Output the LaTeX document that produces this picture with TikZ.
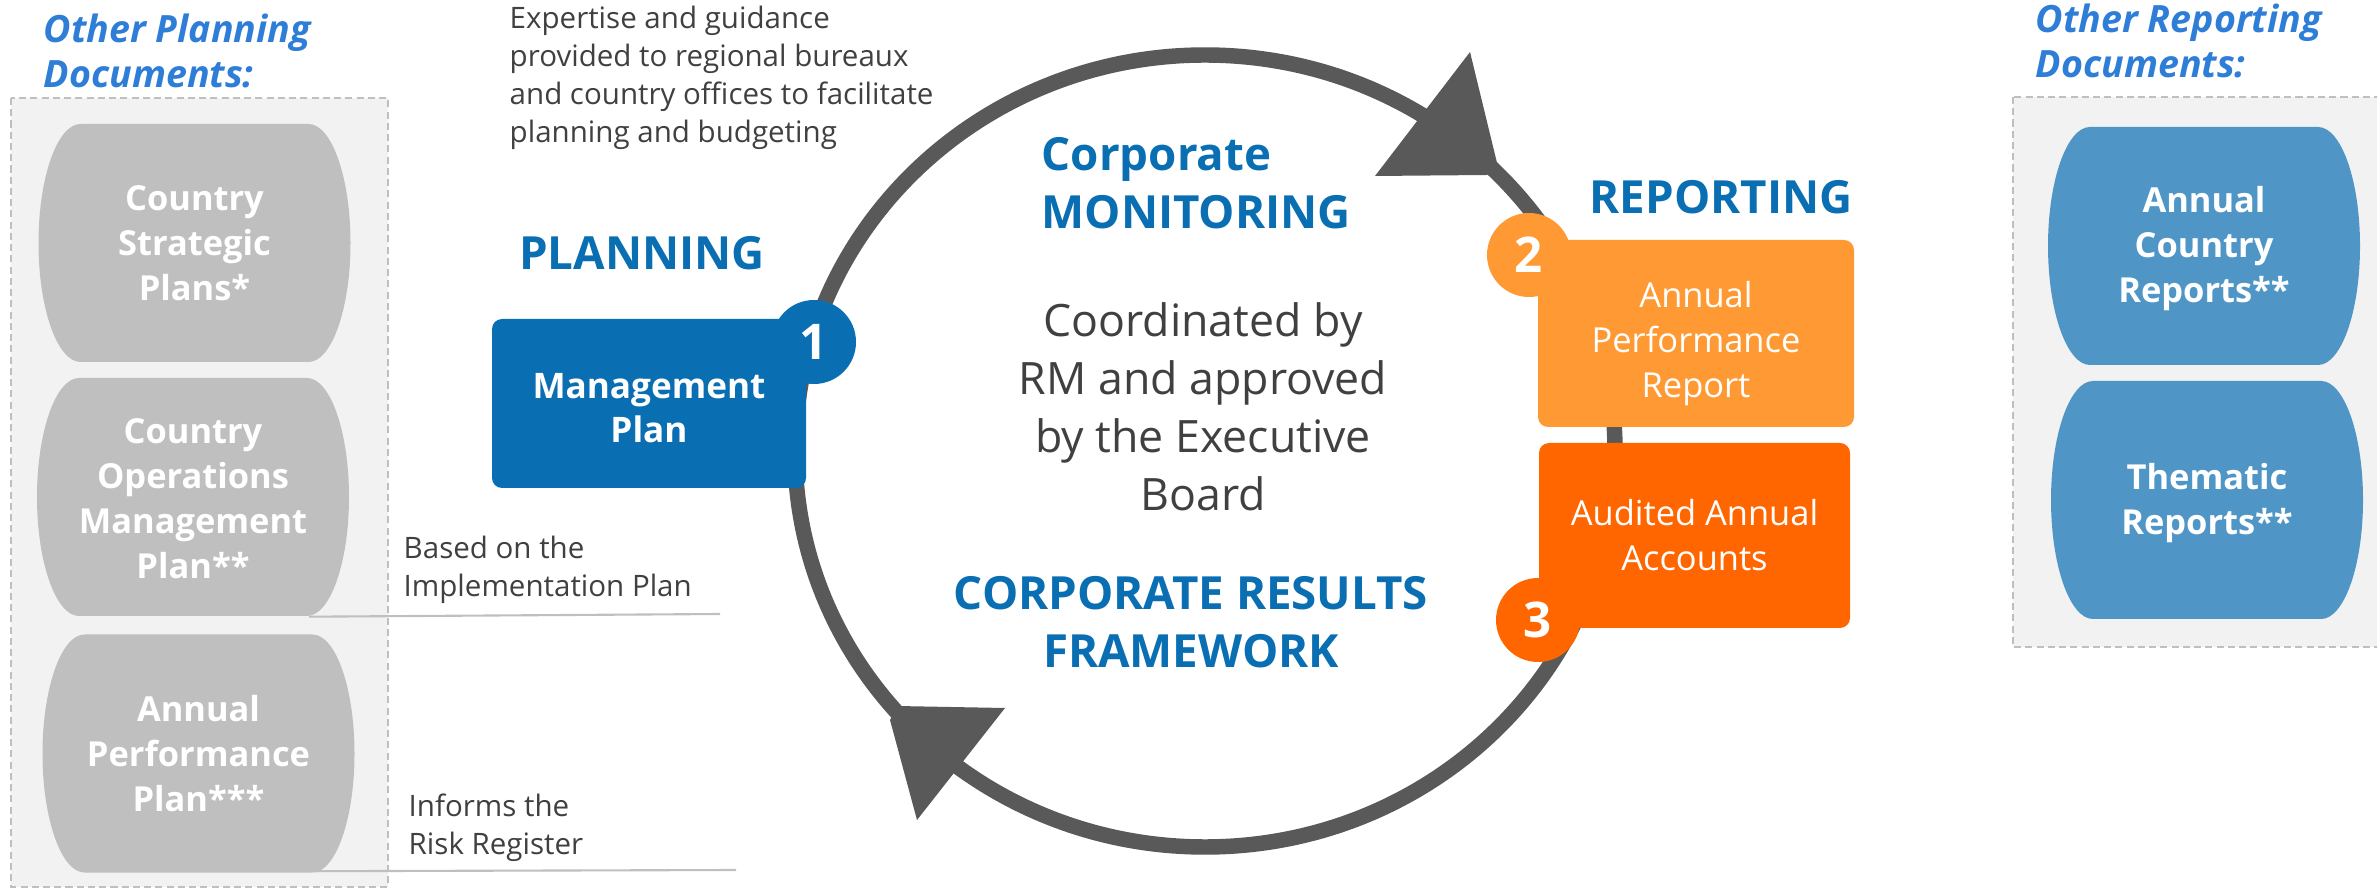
\documentclass[tikz,border=0pt]{standalone}
\usepackage{fontspec}
\setmainfont{Open Sans}
\usetikzlibrary{positioning}
\definecolor{ringgray}{rgb}{0.35,0.35,0.35}
\definecolor{planblue}{rgb}{0.04,0.43,0.70}
\definecolor{titleblue}{rgb}{0.18,0.49,0.84}
\definecolor{pillgray}{rgb}{0.75,0.75,0.75}
\definecolor{panelgray}{rgb}{0.95,0.95,0.95}
\definecolor{reportblue}{rgb}{0.31,0.59,0.78}
\definecolor{aprorange}{rgb}{1.0,0.6,0.2}
\definecolor{auditorange}{rgb}{1.0,0.4,0.0}
\definecolor{darktext}{rgb}{0.25,0.25,0.25}
\tikzstyle{panel} = [fill=panelgray,draw=pillgray,line width=0.7pt,dash pattern=on 2pt off 1.2pt]
\tikzstyle{doc} = [rectangle,minimum width=31.2mm,minimum height=23.8mm,inner sep=0pt,text=white,align=center,font=\fontsize{9.8}{12.8}\selectfont\bfseries]
\tikzstyle{stage} = [rectangle,rounded corners=1mm,text=white,align=center,inner sep=0pt,font=\fontsize{9.8}{12.8}\selectfont]
\tikzstyle{badge} = [circle,minimum size=8.4mm,inner sep=0pt,text=white,font=\fontsize{14}{14}\selectfont\bfseries]
\tikzstyle{heading} = [text=planblue,inner sep=0pt,font=\fontsize{13}{16.5}\selectfont\bfseries]
\tikzstyle{note} = [text=darktext,align=left,inner sep=0pt,font=\fontsize{8.4}{10.8}\selectfont]
\tikzstyle{other} = [text=titleblue,align=left,inner sep=0pt,font=\fontsize{10.7}{12.6}\selectfont\bfseries\itshape]
\tikzstyle{guide} = [draw=pillgray,line width=0.6pt]
\tikzset{docpill/.pic={
  \path[pic actions] (-114,-119) -- (114,-119) .. controls (137,-119) and (156,-66) .. (156,0)
    .. controls (156,66) and (137,119) .. (114,119) -- (-114,119)
    .. controls (-137,119) and (-156,66) .. (-156,0) .. controls (-156,-66) and (-137,-119) .. (-114,-119) -- cycle;
}}

\begin{document}
\begin{tikzpicture}[x=0.1mm,y=-0.1mm]
  \useasboundingbox (0,0) rectangle (2377,889);
  \draw[panel] (11,98) rectangle (388,887);
  \draw[panel] (2013,97) rectangle (2395,647);
  \node[other,anchor=west] (plandocs) at (43,51) {Other Planning\\Documents:};
  \node[other,anchor=west] (repdocs) at (2035,41) {Other Reporting\\Documents:};

  \pic[fill=pillgray] at (194.5,243) {docpill};
  \pic[fill=pillgray] at (193,497) {docpill};
  \pic[fill=pillgray] at (198.5,753.5) {docpill};
  \pic[fill=reportblue] at (2204,246) {docpill};
  \pic[fill=reportblue] at (2207,500) {docpill};
  \node[doc] (csp) at (194.5,243) {Country\\Strategic\\Plans*};
  \node[doc] (comp) at (193,499) {Country\\Operations\\Management\\Plan**};
  \node[doc] (app) at (198.5,753.5) {Annual\\Performance\\Plan***};
  \node[doc] (acr) at (2204,249) {Annual\\Country\\Reports**};
  \node[doc] (thematic) at (2207,503) {Thematic\\Reports**};

  \coordinate (basedend) at (720,614);
  \coordinate (informsend) at (736,870);
  \draw[guide] ([xshift=11.6mm,yshift=0.2mm]comp.south) -- (basedend);
  \draw[guide] ([xshift=11.6mm,yshift=0.2mm]app.south) -- (informsend);
  \node[note,anchor=west] (based) at (403,570) {Based on the\\Implementation Plan};
  \node[note,anchor=west] (informs) at (408,828) {Informs the\\Risk Register};
  \node[note,anchor=west] (expertise) at (509,78) {Expertise and guidance\\provided to regional bureaux\\and country offices to facilitate\\planning and budgeting};

  \draw[ringgray,line width=4.4pt] (1205,451) ellipse [x radius=41mm,y radius=39.6mm];
  \fill[ringgray] (1470,52) -- (1375,176) -- (1487,175) -- (1498,167) -- cycle;
  \fill[ringgray] (917,820) -- (1005,708) -- (897,706) -- (890,720) -- cycle;

  \node[stage,fill=planblue,minimum width=31.4mm,minimum height=16.9mm,font=\fontsize{10}{12.5}\selectfont\bfseries] (mplan) at (649,403.5) {\rule{0pt}{10pt}Management\\Plan};
  \node[badge,fill=planblue] (one) at (814,342) {1};
  \node[stage,fill=aprorange,minimum width=31.6mm,minimum height=18.7mm] (apr) at (1696,333.5) {\rule{0pt}{12.9pt}Annual\\Performance\\Report};
  \node[badge,fill=aprorange] (two) at (1529,255) {2};
  \node[stage,fill=auditorange,minimum width=31.1mm,minimum height=18.5mm] (audit) at (1694.5,535.5) {Audited Annual\\Accounts};
  \node[badge,fill=auditorange] (three) at (1538,620) {3};

  \node[heading] (planning) at (642,253) {PLANNING};
  \node[heading] (reporting) at (1721,197) {REPORTING};
  \node[heading,anchor=west,align=left] (monitoring) at (1041,183) {Corporate\\MONITORING};
  \node[heading,align=center] (crf) at (1191,622) {CORPORATE RESULTS\\FRAMEWORK};
  \node[text=darktext,align=center,inner sep=0pt,font=\fontsize{12.7}{16.5}\selectfont] (coord) at (1203,407) {Coordinated by\\RM and approved\\by the Executive\\Board};
\end{tikzpicture}
\end{document}
